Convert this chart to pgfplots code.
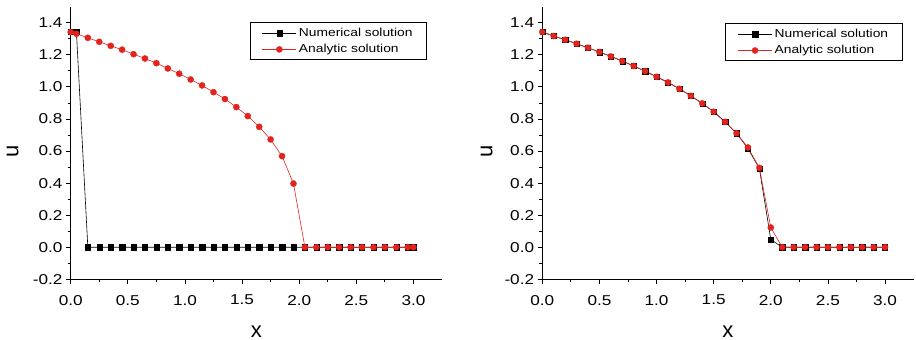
\documentclass[border=0pt]{standalone}
\usepackage{pgfplots}
\pgfplotsset{compat=1.18}
\usepackage{pgfplotstable}
\usepackage{fontspec}
\setmainfont[FakeStretch=1.2]{Liberation Sans}
\newfontfamily\labelfont{Liberation Sans}
\definecolor{myred}{RGB}{226,36,30}

\pgfplotstableread{
x y
0 1.342
0.05 1.331
0.15 1.306
0.25 1.281
0.35 1.256
0.45 1.232
0.55 1.204
0.65 1.177
0.75 1.148
0.85 1.115
0.95 1.082
1.05 1.046
1.15 1.009
1.25 0.967
1.35 0.924
1.45 0.874
1.55 0.818
1.65 0.751
1.75 0.672
1.85 0.568
1.95 0.397
2.05 0
2.15 0
2.25 0
2.35 0
2.45 0
2.55 0
2.65 0
2.75 0
2.85 0
2.95 0
3.0 0
}\leftana

\pgfplotstableread{
x y
0 1.342
0.05 1.342
0.15 0
0.25 0
0.35 0
0.45 0
0.55 0
0.65 0
0.75 0
0.85 0
0.95 0
1.05 0
1.15 0
1.25 0
1.35 0
1.45 0
1.55 0
1.65 0
1.75 0
1.85 0
1.95 0
2.05 0
2.15 0
2.25 0
2.35 0
2.45 0
2.55 0
2.65 0
2.75 0
2.85 0
2.95 0
3.0 0
}\leftnum

\pgfplotstableread{
x y
0 1.342
0.1 1.317
0.2 1.294
0.3 1.269
0.4 1.244
0.5 1.217
0.6 1.190
0.7 1.161
0.8 1.130
0.9 1.098
1.0 1.063
1.1 1.028
1.2 0.988
1.3 0.944
1.4 0.897
1.5 0.845
1.6 0.782
1.7 0.711
1.8 0.622
1.9 0.495
2.0 0.123
2.1 0
2.2 0
2.3 0
2.4 0
2.5 0
2.6 0
2.7 0
2.8 0
2.9 0
3.0 0
}\rightana

\pgfplotstableread{
x y
0 1.342
0.1 1.317
0.2 1.294
0.3 1.269
0.4 1.244
0.5 1.217
0.6 1.190
0.7 1.161
0.8 1.130
0.9 1.098
1.0 1.063
1.1 1.028
1.2 0.988
1.3 0.944
1.4 0.897
1.5 0.845
1.6 0.782
1.7 0.711
1.8 0.616
1.9 0.491
2.0 0.048
2.1 0
2.2 0
2.3 0
2.4 0
2.5 0
2.6 0
2.7 0
2.8 0
2.9 0
3.0 0
}\rightnum

\pgfplotsset{
  myaxis/.style={
    scale only axis,
    width=371.3pt, height=272.6pt,
    xmin=0, xmax=3.25, ymin=-0.2, ymax=1.5,
    axis lines=left,
    axis line style={-, line width=0.8pt},
    xtick={0,0.5,...,3.0},
    ytick={-0.2,0,0.2,0.4,0.6,0.8,1.0,1.2,1.4},
    minor x tick num=1,
    minor y tick num=1,
    tick align=outside,
    tick style={black, line width=0.8pt},
    major tick length=4.7pt,
    minor tick length=3pt,
    /pgf/number format/assume math mode=true,
    /pgf/number format/fixed,
    /pgf/number format/fixed zerofill,
    /pgf/number format/precision=1,
    tick label style={font=\fontsize{14.3}{16}\selectfont},
    xticklabel style={yshift=-7.5pt},
    xlabel={x}, ylabel={u},
    label style={font=\labelfont\fontsize{22}{24}\selectfont},
    xlabel style={at={(rel axis cs:0.5,0)}, anchor=center, yshift=-52pt},
    legend cell align=left,
    legend style={draw=black, line width=0.8pt, fill=white,
      font=\fontsize{11.5}{13}\selectfont, row sep=2.5pt,
      inner xsep=12pt, inner ysep=3.5pt, anchor=north west,
      nodes={inner xsep=2.3pt, inner ysep=2pt}},
    legend image code/.code={\draw[mark repeat=2,mark phase=2] plot coordinates {(0pt,0pt)(17pt,0pt)(34pt,0pt)};},
  },
  numstyle/.style={black, line width=0.6pt, mark=square*, mark size=2.6pt, mark options={solid, fill=black, line width=0.3pt}},
  anastyle/.style={myred, line width=0.6pt, mark=*, mark size=3.1pt, mark options={solid, fill=myred, draw=myred, line width=0.3pt}},
}

\begin{document}
\begin{tikzpicture}
\path[use as bounding box] (0,0) rectangle (916pt,340pt);
\begin{axis}[myaxis, at={(70.7pt,60.7pt)}, anchor=south west,
  ylabel style={at={(rel axis cs:-0.156,0.468)}, anchor=center, rotate=0},
  legend style={at={(rel axis cs:0.482,0.943)}}]
\addplot[numstyle] table[x=x,y=y] {\leftnum};
\addlegendentry{Numerical solution\hspace{5pt}}
\addplot[anastyle] table[x=x,y=y] {\leftana};
\addlegendentry{Analytic solution}
\end{axis}
\begin{axis}[myaxis, at={(542.3pt,60.7pt)}, anchor=south west,
  ylabel style={at={(rel axis cs:-0.150,0.468)}, anchor=center, rotate=0},
  legend style={at={(rel axis cs:0.493,0.939)}}]
\addplot[numstyle] table[x=x,y=y] {\rightnum};
\addlegendentry{Numerical solution\hspace{5pt}}
\addplot[anastyle] table[x=x,y=y] {\rightana};
\addlegendentry{Analytic solution}
\end{axis}
\end{tikzpicture}
\end{document}
